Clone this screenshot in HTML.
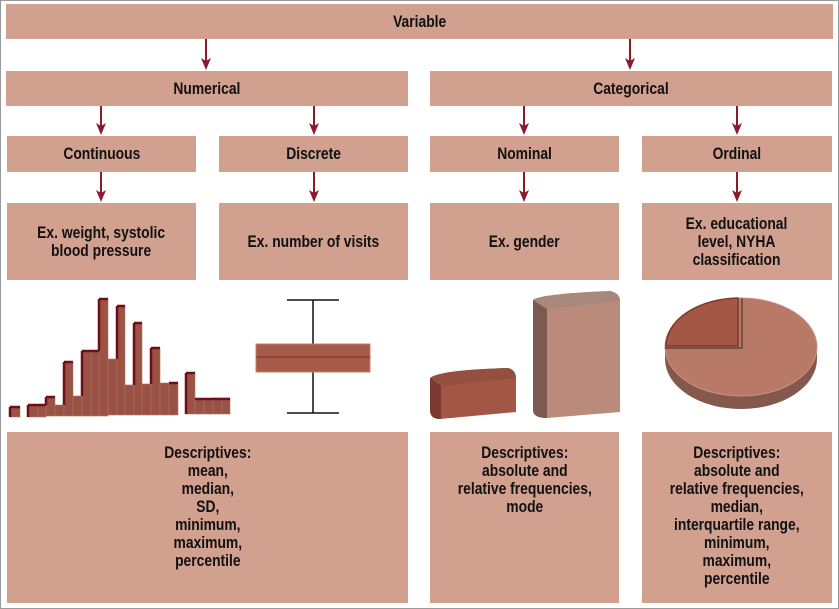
<!DOCTYPE html>
<html><head><meta charset="utf-8"><style>
body{margin:0;width:839px;height:609px;background:#fff;position:relative;overflow:hidden;font-family:"Liberation Sans",sans-serif;}
.frame{position:absolute;left:0;top:0;width:837px;height:607px;border:1px solid #9a9a9a;}
.b{position:absolute;background:#d2a08f;display:flex;align-items:center;justify-content:center;text-align:center;font-weight:bold;font-size:16.5px;line-height:18px;color:#111;}
.b>span{display:inline-block;transform:scaleX(.84);white-space:nowrap;}
svg{position:absolute;left:0;top:0;}
</style></head><body>
<div class="frame"></div>
<div class="b" style="left:6px;top:4px;width:827px;height:35px"><span>Variable</span></div>
<div class="b" style="left:6px;top:71px;width:402px;height:35px"><span>Numerical</span></div>
<div class="b" style="left:430px;top:71px;width:402px;height:35px"><span>Categorical</span></div>
<div class="b" style="left:7px;top:136px;width:189px;height:36px"><span>Continuous</span></div>
<div class="b" style="left:219px;top:136px;width:189px;height:36px"><span>Discrete</span></div>
<div class="b" style="left:430px;top:136px;width:189px;height:36px"><span>Nominal</span></div>
<div class="b" style="left:642px;top:136px;width:190px;height:36px"><span>Ordinal</span></div>
<div class="b" style="left:7px;top:203px;width:189px;height:77px"><span>Ex. weight, systolic<br>blood pressure</span></div>
<div class="b" style="left:219px;top:203px;width:189px;height:77px"><span>Ex. number of visits</span></div>
<div class="b" style="left:430px;top:203px;width:189px;height:77px"><span>Ex. gender</span></div>
<div class="b" style="left:642px;top:203px;width:190px;height:77px"><span>Ex. educational<br>level, NYHA<br>classification</span></div>
<div class="b" style="left:7px;top:432px;width:401px;height:171px;align-items:flex-start;padding-top:12px;box-sizing:border-box"><span>Descriptives:<br>mean,<br>median,<br>SD,<br>minimum,<br>maximum,<br>percentile</span></div>
<div class="b" style="left:430px;top:432px;width:189px;height:171px;align-items:flex-start;padding-top:12px;box-sizing:border-box"><span>Descriptives:<br>absolute and<br>relative frequencies,<br>mode</span></div>
<div class="b" style="left:642px;top:432px;width:190px;height:171px;align-items:flex-start;padding-top:12px;box-sizing:border-box"><span>Descriptives:<br>absolute and<br>relative frequencies,<br>median,<br>interquartile range,<br>minimum,<br>maximum,<br>percentile</span></div>
<svg width="839" height="609">
<g stroke="#8b1a2a" stroke-width="2">
<line x1="206" y1="39" x2="206" y2="62"/><line x1="630" y1="39" x2="630" y2="62"/>
<line x1="101" y1="106" x2="101" y2="127"/><line x1="314" y1="106" x2="314" y2="127"/>
<line x1="524" y1="106" x2="524" y2="127"/><line x1="737" y1="106" x2="737" y2="127"/>
<line x1="101" y1="172" x2="101" y2="194"/><line x1="314" y1="172" x2="314" y2="194"/>
<line x1="524" y1="172" x2="524" y2="194"/><line x1="737" y1="172" x2="737" y2="194"/>
</g>
<g fill="#8b1a2a">
<path d="M201,58L206,70L211,58L206,61Z"/><path d="M625,58L630,70L635,58L630,61Z"/>
<path d="M96,123L101,135L106,123L101,126Z"/><path d="M309,123L314,135L319,123L314,126Z"/>
<path d="M519,123L524,135L529,123L524,126Z"/><path d="M732,123L737,135L742,123L737,126Z"/>
<path d="M96,190L101,202L106,190L101,193Z"/><path d="M309,190L314,202L319,190L314,193Z"/>
<path d="M519,190L524,202L529,190L524,193Z"/><path d="M732,190L737,202L742,190L737,193Z"/>
</g>
<g fill="#9a5244" stroke="#b07565" stroke-width="0.6">
<rect x="10" y="407" width="10" height="10"/>
<rect x="28" y="405" width="10" height="12"/><rect x="38" y="405" width="8" height="12"/>
<rect x="46" y="397" width="9" height="19"/><rect x="55" y="405" width="9" height="11"/>
<rect x="64" y="362" width="9" height="54"/><rect x="73" y="396" width="9" height="20"/>
<rect x="82" y="351" width="9" height="65"/><rect x="91" y="351" width="8" height="65"/>
<rect x="99" y="299" width="9" height="117"/><rect x="108" y="359" width="9" height="56"/>
<rect x="117" y="306" width="8" height="109"/><rect x="125" y="385" width="9" height="30"/>
<rect x="134" y="323" width="8" height="92"/><rect x="142" y="384" width="9" height="31"/>
<rect x="151" y="348" width="9" height="67"/><rect x="160" y="383" width="9" height="32"/>
<rect x="169" y="383" width="9" height="32"/>
<rect x="186" y="373" width="9" height="41"/><rect x="195" y="399" width="9" height="15"/>
<rect x="204" y="399" width="9" height="15"/><rect x="213" y="398" width="9" height="16"/>
<rect x="222" y="398" width="8" height="16"/>
</g>
<path d="M10,407h10M28,405h18M46,397h9M64,362h9M82,351h17M99,299h9M117,306h8M134,323h8M151,348h9M169,383h9M186,373h9M195,399h35M10,407v10M28,405v12M46,397v8M64,362v43M82,351v45M99,299v52M117,306v53M134,323v62M151,348v36M186,373v41" stroke="#6e0e18" stroke-width="2.5" fill="none"/>
<g stroke="#111" stroke-width="1.5" fill="none">
<line x1="313" y1="300" x2="313" y2="344"/><line x1="313" y1="372" x2="313" y2="413"/>
<line x1="287" y1="300" x2="339" y2="300"/><line x1="287" y1="413" x2="339" y2="413"/>
</g>
<rect x="256" y="344" width="114" height="28" fill="#a85a48" stroke="#c08070"/>
<line x1="256" y1="357" x2="370" y2="357" stroke="#7a3028" stroke-width="1"/>
<path d="M430,378 Q440,370 508,368 Q516,370 516,380 L516,412 L440,419 Q430,419 430,410 Z" fill="#a45646"/>
<path d="M430,378 L441,386 L441,419 Q430,419 430,410 Z" fill="#7a3a30"/>
<path d="M430,378 Q440,370 508,368 Q516,370 516,378 L441,386 Z" fill="#94503f"/>
<path d="M533,300 Q540,294 610,291 Q620,293 620,302 L620,412 L547,418 Q533,418 533,410 Z" fill="#ba8b7b"/>
<path d="M533,300 L547,309 L547,418 Q533,418 533,410 Z" fill="#7d5a50"/>
<path d="M533,300 Q540,294 610,291 Q620,293 620,301 L547,309 Z" fill="#a9887c"/>
<ellipse cx="741" cy="359" rx="76" ry="50" fill="#84584c"/>
<rect x="665" y="347" width="152" height="12" fill="#84584c"/>
<ellipse cx="741" cy="347" rx="76" ry="49" fill="#b87a66" stroke="#c89484"/>
<path d="M742,298 L742,348 L665,348" stroke="#7a5046" stroke-width="2" fill="none"/>
<path d="M666,346 A74,48 0 0 1 738,298 L738,346 Z" fill="#a55746" stroke="#7a3a30" stroke-width="1.5"/>
</svg>
</body></html>
